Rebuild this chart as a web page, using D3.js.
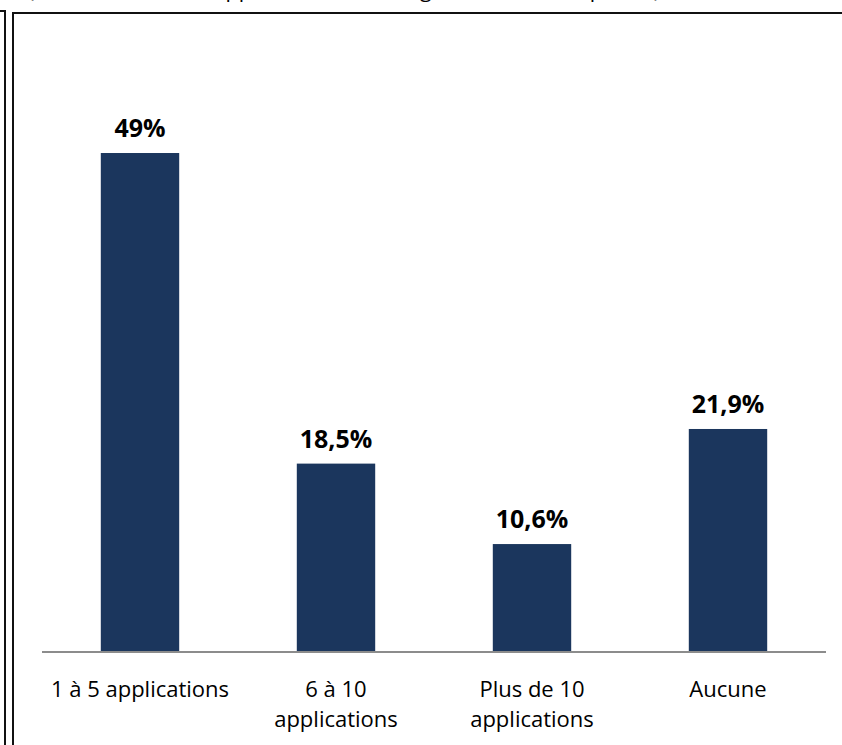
<!DOCTYPE html>
<html>
<head>
<meta charset="utf-8">
<script src="https://cdn.jsdelivr.net/npm/d3@7"></script>
<style>
  body { margin: 0; background: #fff; }
  svg { display: block; }
</style>
</head>
<body>
<div id="chart"></div>
<script>
// data
var categories = ["1 à 5 applications", "6 à 10 applications", "Plus de 10 applications", "Aucune"];
var catLines = [["1 à 5 applications"], ["6 à 10", "applications"], ["Plus de 10", "applications"], ["Aucune"]];
var values = [49, 18.5, 10.6, 21.9];
var valueLabels = ["49%", "18,5%", "10,6%", "21,9%"];
var titleText = "(Nombre total des applications téléchargées sur le smartphone)";

var width = 842, height = 745;

var svg = d3.select("#chart").append("svg")
  .attr("width", width)
  .attr("height", height);

// title line, cut off by the top edge as in the original
svg.append("text")
  .attr("x", 28)
  .attr("y", -3)
  .attr("textLength", 632)
  .attr("lengthAdjust", "spacingAndGlyphs")
  .style("font-family", "'Open Sans', sans-serif")
  .style("font-size", "20px")
  .attr("fill", "#000")
  .text(titleText);

// frame lines (double on the left)
var frame = svg.append("g").attr("stroke", "#111").attr("stroke-width", 2).attr("fill", "none");
frame.append("path").attr("d", "M0,11 H5 V745");
frame.append("path").attr("d", "M13,745 V13 H842");

var x = d3.scaleBand()
  .domain(categories)
  .range([42, 826])
  .paddingInner(0.6)
  .paddingOuter(0.3);

var y = d3.scaleLinear()
  .domain([0, 60])
  .range([652, 41]);

// bars
svg.selectAll(".bar")
  .data(values)
  .enter()
  .append("rect")
  .attr("class", "bar")
  .attr("x", (d, i) => x(categories[i]))
  .attr("y", d => y(d))
  .attr("width", x.bandwidth())
  .attr("height", d => y(0) - y(d))
  .attr("fill", "#1b365d");

// baseline
svg.append("line")
  .attr("x1", 42).attr("x2", 826)
  .attr("y1", y(0)).attr("y2", y(0))
  .attr("stroke", "#8c8c8c")
  .attr("stroke-width", 2);

// value labels
svg.selectAll(".val")
  .data(values)
  .enter()
  .append("text")
  .attr("class", "val")
  .attr("x", (d, i) => x(categories[i]) + x.bandwidth() / 2)
  .attr("y", d => y(d) - 16)
  .attr("text-anchor", "middle")
  .style("font-family", "'Open Sans', sans-serif")
  .style("font-weight", "bold")
  .style("font-size", "25px")
  .attr("fill", "#000")
  .text((d, i) => valueLabels[i]);

// category labels
var cat = svg.selectAll(".cat")
  .data(categories)
  .enter()
  .append("text")
  .attr("class", "cat")
  .attr("x", d => x(d) + x.bandwidth() / 2)
  .attr("y", 697)
  .attr("text-anchor", "middle")
  .style("font-family", "'Open Sans', sans-serif")
  .style("font-size", "22px")
  .attr("fill", "#000");

cat.selectAll("tspan")
  .data((d, i) => catLines[i])
  .enter()
  .append("tspan")
  .attr("x", function () { return d3.select(this.parentNode).attr("x"); })
  .attr("dy", (d, j) => j === 0 ? 0 : 30)
  .text(d => d);
</script>
</body>
</html>
